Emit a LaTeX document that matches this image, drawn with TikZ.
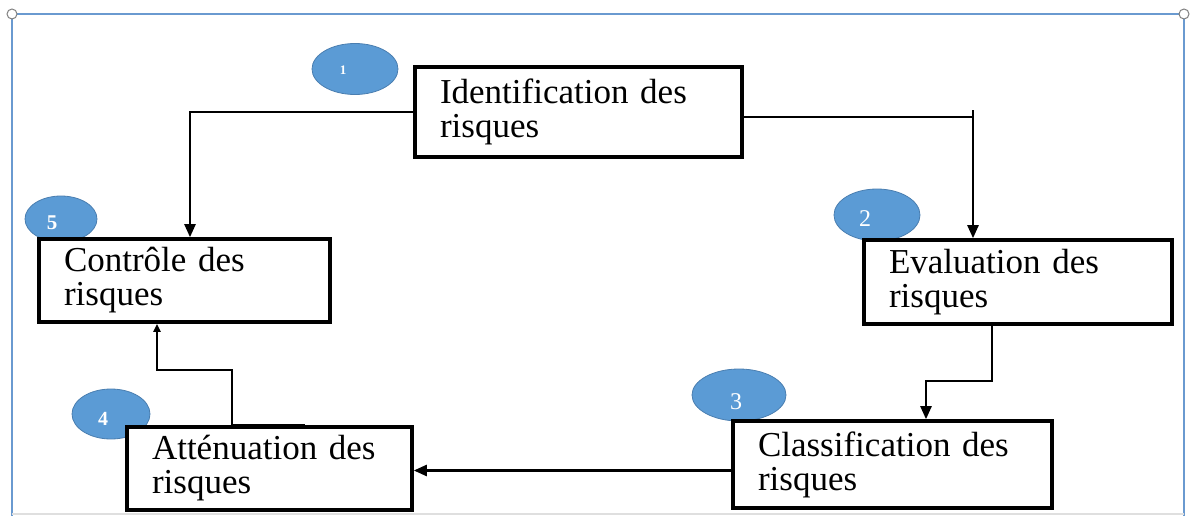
\documentclass[tikz,border=0pt]{standalone}
\usepackage{fontspec}
\setmainfont{Liberation Serif}
\usetikzlibrary{arrows.meta,shapes.geometric}
\definecolor{frameblue}{HTML}{6A9AD0}
\definecolor{ellfill}{HTML}{5B9BD5}
\definecolor{elldraw}{HTML}{4A7EB0}
\tikzset{
  stepbox/.style={draw, line width=3.6pt, fill=white, align=left,
    inner xsep=25pt, inner ysep=2pt,
    font=\fontsize{35}{34}\selectfont},
  conn/.style={line width=2.4pt, -{Triangle[length=13pt,width=11pt]}},
  badge/.style={ellipse, fill=ellfill, draw=elldraw, line width=0.8pt, inner sep=0pt},
  num/.style={text=white, inner sep=0pt, font=\fontsize{24}{24}\selectfont},
}
\begin{document}
\begin{tikzpicture}[x=1pt,y=-1pt]
\useasboundingbox (0,0) rectangle (1194,516);
% frame
\draw[frameblue, line width=2pt] (12,516) -- (12,14) -- (1184,14) -- (1184,516);
\draw[gray!25, line width=2pt] (12,514) -- (1184,514);
\draw[gray, fill=white, line width=1pt] (12,14) circle (5);
\draw[gray, fill=white, line width=1pt] (1184,14) circle (5);
% badges
\node[badge, minimum width=86pt, minimum height=51pt] (e1) at (355,69) {};
\node[badge, minimum width=86pt, minimum height=52pt] (e2) at (877,215) {};
\node[badge, minimum width=94pt, minimum height=52pt] (e3) at (739,395) {};
\node[badge, minimum width=72pt, minimum height=46pt] (e5) at (61,219) {};
\node[badge, minimum width=78pt, minimum height=50pt] (e4) at (111,414) {};
% boxes
\node[stepbox, text width=277pt, minimum height=90pt] (ident) at (578.5,112) {Identification des\\risques};
\node[stepbox, text width=258pt, minimum height=84pt] (eval) at (1018,282) {Evaluation des\\risques};
\node[stepbox, text width=269pt, minimum height=87pt] (class) at (892.5,464.5) {Classification des\\risques};
\node[stepbox, text width=241pt, minimum height=83pt] (contr) at (184.5,280.5) {Contrôle des\\risques};
\node[stepbox, text width=235pt, minimum height=83pt] (atten) at (269.5,468.5) {Atténuation des\\risques};
% numbers
\node[num, font=\fontsize{13}{13}\selectfont\bfseries] (n1) at (343,70) {1};
\node[num] (n2) at (865,219) {2};
\node[num] (n3) at (736,402) {3};
\node[num, font=\fontsize{21}{21}\selectfont\bfseries] (n5) at (52,223) {5};
\node[num, font=\fontsize{20}{20}\selectfont\bfseries] (n4) at (103,419) {4};
% connectors
\draw[conn] (ident.west) -| ([xshift=5.5pt]contr.north);
\draw[conn] ([yshift=-5pt]ident.east) -| ([xshift=-45pt]eval.north);
\draw[line width=2.4pt] ([xshift=-45pt,yshift=-5pt]ident.east -| eval.north) -- ++(0,-7);
\draw[conn] ([xshift=-26pt]eval.south) -- ++(0,55) coordinate (c3) -| ([xshift=33.5pt]class.north);
\draw[conn] ([yshift=-6pt]class.west) -- ([yshift=-6pt]class.west -| atten.east);
\draw[line width=2.2pt, -{Triangle[length=8pt,width=7pt]}] ([xshift=-37.5pt]atten.north) -- ++(0,-55) -| ([xshift=-27.5pt]contr.south);
\draw[line width=5pt] ([xshift=-37.5pt,yshift=-1pt]atten.north) -- ([xshift=35.5pt,yshift=-1pt]atten.north);
\end{tikzpicture}
\end{document}
